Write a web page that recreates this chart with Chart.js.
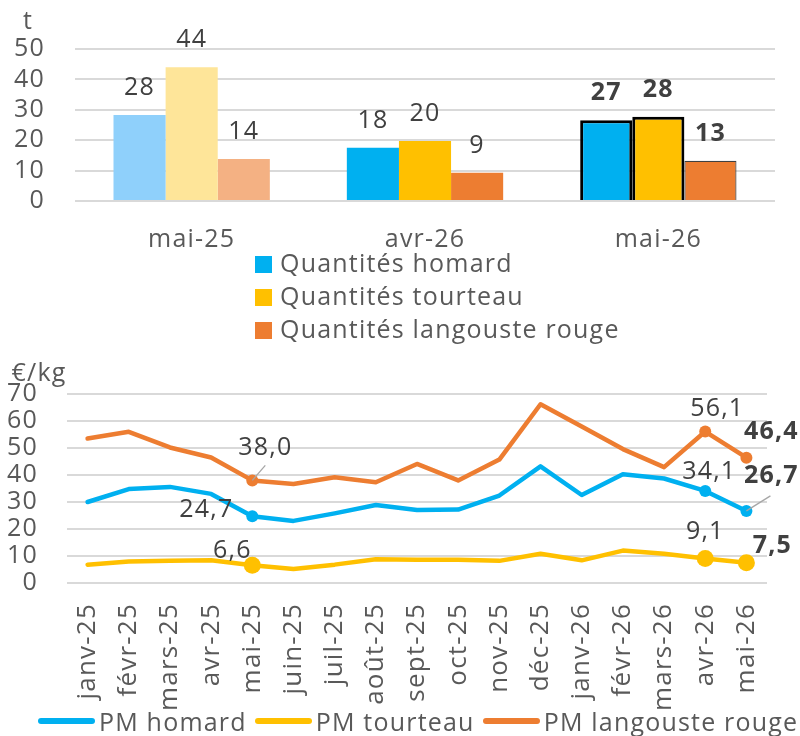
<!DOCTYPE html>
<html lang="fr">
<head>
<meta charset="utf-8">
<script src="https://cdn.jsdelivr.net/npm/chart.js@4.4.1/dist/chart.umd.min.js"></script>
<style>
  html, body { margin: 0; padding: 0; background: #fff; }
  body { width: 800px; height: 736px; position: relative; overflow: hidden; font-family: "Open Sans", sans-serif; }
  #barChart { position: absolute; left: 0; top: 0; }
  #lineChart { position: absolute; left: 0; top: 350px; }
  .legend { position: absolute; color: #595959; font-size: 25px; letter-spacing: 1.2px; white-space: nowrap; }
  #barLegend { left: 255px; top: 246px; line-height: 33px; }
  #barLegend .box { display: inline-block; width: 17px; height: 17px; margin-right: 8px; vertical-align: -1px; }
  #lineLegend { left: 38px; top: 704px; line-height: 34px; display: flex; }
  #lineLegend .item { display: flex; align-items: center; margin-right: 8px; }
  #lineLegend .ln { display: inline-block; width: 57px; height: 6px; border-radius: 3px; margin-right: 4px; }
</style>
</head>
<body>
<canvas id="barChart" width="800" height="250"></canvas>
<div id="barLegend" class="legend"></div>
<canvas id="lineChart" width="800" height="386"></canvas>
<div id="lineLegend" class="legend"></div>
<script>
// --- quantités (t)
const barCategories = ['mai-25', 'avr-26', 'mai-26'];
const qtyHomard = [28.3, 17.5, 26.6];
const qtyTourteau = [44.0, 19.7, 27.7];
const qtyLangouste = [13.8, 9.3, 13.2];
const barTicks = [0, 10, 20, 30, 40, 50];

// --- prix moyens (€/kg)
const months = ['janv-25', 'févr-25', 'mars-25', 'avr-25', 'mai-25', 'juin-25', 'juil-25', 'août-25',
  'sept-25', 'oct-25', 'nov-25', 'déc-25', 'janv-26', 'févr-26', 'mars-26', 'avr-26', 'mai-26'];
const pmHomard = [30.0, 34.8, 35.6, 33.0, 24.7, 23.0, 25.8, 28.9, 27.0, 27.2, 32.4, 43.2, 32.6, 40.3, 38.7, 34.1, 26.7];
const pmTourteau = [6.8, 8.0, 8.2, 8.4, 6.6, 5.2, 6.8, 8.8, 8.6, 8.6, 8.2, 10.8, 8.4, 12.0, 10.8, 9.1, 7.5];
const pmLangouste = [53.5, 56.0, 50.2, 46.5, 38.0, 36.7, 39.2, 37.3, 44.1, 38.0, 45.7, 66.2, 58.0, 49.6, 42.9, 56.1, 46.4];
const lineTicks = [0, 10, 20, 30, 40, 50, 60, 70];

const BLUE = '#00B0F0', YELLOW = '#FFC000', ORANGE = '#ED7D31';
const GRID = '#d9d9d9';
const FONT = '"Open Sans", sans-serif';

Chart.defaults.font.family = FONT;
Chart.defaults.color = '#595959';

const fr = v => v.toFixed(1).replace('.', ',');

// slightly wider text, closer to the original font
const spacing = {
  id: 'spacing',
  beforeDraw(chart) { chart.ctx.letterSpacing = '1.2px'; }
};

// text at a fixed spot (axis unit)
const unitLabel = {
  id: 'unitLabel',
  afterDraw(chart, args, opts) {
    const ctx = chart.ctx;
    ctx.save();
    ctx.font = '25px ' + FONT;
    ctx.fillStyle = '#595959';
    ctx.textAlign = 'center';
    ctx.textBaseline = 'middle';
    ctx.fillText(opts.text, opts.x, opts.y);
    ctx.restore();
  }
};

// value labels next to bars / points
const valueLabels = {
  id: 'valueLabels',
  afterDatasetsDraw(chart, args, opts) {
    const ctx = chart.ctx;
    ctx.save();
    chart.data.datasets.forEach((ds, di) => {
      const meta = chart.getDatasetMeta(di);
      meta.data.forEach((el, i) => {
        const p = opts.place(di, i);
        if (!p) return;
        if (p.leader) {
          ctx.strokeStyle = '#a6a6a6';
          ctx.lineWidth = 1.3;
          ctx.beginPath();
          ctx.moveTo(el.x, el.y);
          ctx.lineTo(el.x + p.leader[0], el.y + p.leader[1]);
          ctx.stroke();
        }
        ctx.font = (p.bold ? 'bold ' : '') + '25px ' + FONT;
        ctx.fillStyle = '#404040';
        ctx.textAlign = 'center';
        ctx.textBaseline = 'middle';
        ctx.fillText(opts.format(ds.data[i]), el.x + p.dx, el.y + p.dy);
      });
    });
    ctx.restore();
  }
};

// ---------- bar chart
const barColors = [
  ['#8FD0FB', BLUE, BLUE],
  ['#FEE599', YELLOW, YELLOW],
  ['#F4B183', ORANGE, ORANGE]
];
const barNames = ['Quantités homard', 'Quantités tourteau', 'Quantités langouste rouge'];
const barSeries = [qtyHomard, qtyTourteau, qtyLangouste];

new Chart(document.getElementById('barChart'), {
  type: 'bar',
  data: {
    labels: barCategories,
    datasets: barSeries.map((d, k) => ({
      label: barNames[k],
      data: d,
      backgroundColor: barColors[k],
      borderColor: k === 2 ? '#404040' : '#000000',
      borderWidth: k === 2 ? [0, 0, 1.2] : [0, 0, 3],
      borderSkipped: 'bottom',
      categoryPercentage: 0.67,
      barPercentage: 1
    }))
  },
  options: {
    responsive: false,
    animation: false,
    layout: { padding: { top: 49, right: 25, left: 0, bottom: 0 } },
    plugins: {
      legend: { display: false },
      tooltip: { enabled: false },
      unitLabel: { text: 't', x: 28, y: 22 },
      valueLabels: {
        place: (di, i) => ({ dx: 0, dy: -27, bold: i === 2 }),
        format: v => String(Math.round(v))
      }
    },
    scales: {
      x: {
        grid: { display: false, drawTicks: false },
        border: { display: false },
        ticks: { padding: 24, font: { size: 25 }, color: '#595959' },
        afterFit: s => { s.height = 49; }
      },
      y: {
        min: 0, max: 50,
        afterBuildTicks: s => { s.ticks = barTicks.map(v => ({ value: v })); },
        grid: { color: GRID, lineWidth: 2, drawTicks: false },
        border: { display: false },
        ticks: { autoSkip: false, padding: 30, font: { size: 25 }, color: '#595959' },
        afterFit: s => { s.width = 75; }
      }
    }
  },
  plugins: [spacing, unitLabel, valueLabels]
});

// HTML legend for the bar chart (one item per row)
document.getElementById('barLegend').innerHTML = barNames.map((n, k) =>
  '<div><span class="box" style="background:' + barColors[k][1] + '"></span>' + n + '</div>').join('');

// ---------- line chart
const markIdx = [4, 15, 16];
const lineNames = ['PM homard', 'PM tourteau', 'PM langouste rouge'];
const lineSeries = [pmHomard, pmTourteau, pmLangouste];
const lineColors = [BLUE, YELLOW, ORANGE];
const markRadius = [6, 8.5, 6];

// label offsets relative to the marked points
const pointLabelPlace = [
  { 4: { dx: -46, dy: -6 }, 15: { dx: 4, dy: -19 }, 16: { dx: 25, dy: -35, bold: true, leader: [24, -15] } },
  { 4: { dx: -20, dy: -14 }, 15: { dx: 0, dy: -27 }, 16: { dx: 26, dy: -17, bold: true } },
  { 4: { dx: 13, dy: -33, leader: [13, -15] }, 15: { dx: 12, dy: -23 }, 16: { dx: 25, dy: -26, bold: true } }
];

new Chart(document.getElementById('lineChart'), {
  type: 'line',
  data: {
    labels: months,
    datasets: lineSeries.map((d, k) => ({
      label: lineNames[k],
      data: d,
      borderColor: lineColors[k],
      backgroundColor: lineColors[k],
      borderWidth: 4.5,
      borderCapStyle: 'round',
      borderJoinStyle: 'round',
      tension: 0,
      pointRadius: d.map((v, i) => markIdx.includes(i) ? markRadius[k] : 0),
      pointBorderWidth: 0,
      pointHoverRadius: 0
    }))
  },
  options: {
    responsive: false,
    animation: false,
    layout: { padding: { top: 43, right: 33, left: 0, bottom: 0 } },
    plugins: {
      legend: { display: false },
      tooltip: { enabled: false },
      unitLabel: { text: '€/kg', x: 39, y: 24 },
      valueLabels: {
        place: (di, i) => pointLabelPlace[di][i],
        format: fr
      }
    },
    scales: {
      x: {
        offset: true,
        grid: { display: false, drawTicks: false },
        border: { display: false },
        ticks: { minRotation: 90, maxRotation: 90, autoSkip: false, padding: 20, font: { size: 26 }, color: '#595959' },
        afterFit: s => { s.height = 153; }
      },
      y: {
        min: 0, max: 70,
        afterBuildTicks: s => { s.ticks = lineTicks.map(v => ({ value: v })); },
        grid: { color: GRID, lineWidth: 2, drawTicks: false },
        border: { display: false },
        ticks: { autoSkip: false, padding: 29, font: { size: 25 }, color: '#595959' },
        afterFit: s => { s.width = 67; }
      }
    }
  },
  plugins: [spacing, unitLabel, valueLabels]
});

// HTML legend for the line chart (one row)
document.getElementById('lineLegend').innerHTML = lineNames.map((n, k) =>
  '<span class="item"><span class="ln" style="background:' + lineColors[k] + '"></span>' + n + '</span>').join('');
</script>
</body>
</html>
